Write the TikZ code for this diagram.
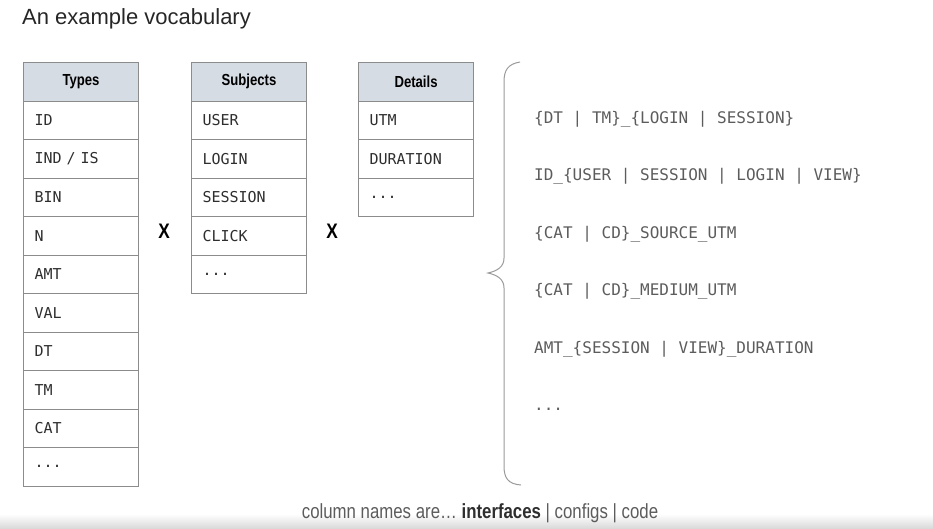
\documentclass[tikz,border=0pt]{standalone}
\usepackage{fontspec}
\setmainfont{Liberation Sans}
\setmonofont{DejaVu Sans Mono}
\newfontfamily\condfont[FakeStretch=0.82]{Liberation Sans}
\usepackage{tikz}
\usetikzlibrary{positioning}
\definecolor{cellgray}{HTML}{8C8C8C}
\definecolor{headfill}{HTML}{D6DCE3}
\definecolor{celltext}{HTML}{2E2E2E}
\definecolor{nametext}{HTML}{5C5C5C}
\definecolor{bracegray}{HTML}{9A9A9A}
\definecolor{stripgray}{HTML}{DADADA}
\newcommand{\moredots}{...}

\begin{document}
\begin{tikzpicture}[
    x=1pt, y=-1pt,
    cell/.style={rectangle, draw=cellgray, line width=1.1pt, fill=white,
                 anchor=north west, minimum height=38.5pt, text width=93pt,
                 inner xsep=11pt, inner ysep=0pt, align=left, text=celltext,
                 font=\ttfamily\fontsize{15}{18}\selectfont},
    headcell/.style={cell, fill=headfill, align=center, text=black,
                     font=\condfont\bfseries\fontsize{16}{19}\selectfont},
    times/.style={font=\condfont\bfseries\fontsize{21}{24}\selectfont, text=black},
    colname/.style={anchor=base west, text=nametext, inner sep=0pt,
                    font=\ttfamily\fontsize{16}{19}\selectfont}
  ]
    \useasboundingbox (0,0) rectangle (933,528);

    % title and footer
    \node[anchor=base west, inner sep=0pt, text=black!85,
          font=\fontsize{22}{26}\selectfont] (title) at (22,24) {An example vocabulary};
    \shade[top color=white, bottom color=stripgray] (0,514) rectangle (933,528);
    \node[anchor=base, inner sep=0pt, text=nametext,
          font=\condfont\fontsize{20.5}{24}\selectfont] (caption) at (480,518)
      {column names are\dots\ \textbf{\color{celltext}interfaces} | configs | code};

    % Types
    \node[headcell] (types-0) at (23,62) {Types};
    \foreach \name [count=\i] in {ID, IND / IS, BIN, N, AMT, VAL, DT, TM, CAT}
      \node[cell] (types-\i) at (23,62+38.5*\i) {\name};
    \node[cell] (types-10) at (23,62+38.5*10) {\moredots};

    % Subjects
    \node[headcell] (subj-0) at (191,62) {Subjects};
    \foreach \name [count=\i] in {USER, LOGIN, SESSION, CLICK}
      \node[cell] (subj-\i) at (191,62+38.5*\i) {\name};
    \node[cell] (subj-5) at (191,62+38.5*5) {\moredots};

    % Details
    \node[headcell] (det-0) at (358,62) {Details};
    \foreach \name [count=\i] in {UTM, DURATION}
      \node[cell] (det-\i) at (358,62+38.5*\i) {\name};
    \node[cell] (det-3) at (358,62+38.5*3) {\moredots};

    \node[times] (times-a) at (164,231) {X};
    \node[times] (times-b) at (332,231) {X};

    % brace
    \draw[bracegray, line width=1pt] (520,62) .. controls (508,64) and (504,70) .. (504,82)
      -- (504,258) .. controls (504,267) and (497,271) .. (488,273)
      .. controls (497,275) and (504,279) .. (504,288)
      -- (504,466) .. controls (504,478) and (508,484) .. (521,485);

    % resulting column names
    \node[colname] (name-1) at (534,123) {\{DT | TM\}\_\{LOGIN | SESSION\}};
    \node[colname] (name-2) at (534,180.5) {ID\_\{USER | SESSION | LOGIN | VIEW\}};
    \node[colname] (name-3) at (534,238) {\{CAT | CD\}\_SOURCE\_UTM};
    \node[colname] (name-4) at (534,295.5) {\{CAT | CD\}\_MEDIUM\_UTM};
    \node[colname] (name-5) at (534,353) {AMT\_\{SESSION | VIEW\}\_DURATION};
    \node[colname] (name-6) at (534,410) {\moredots};
\end{tikzpicture}
\end{document}
